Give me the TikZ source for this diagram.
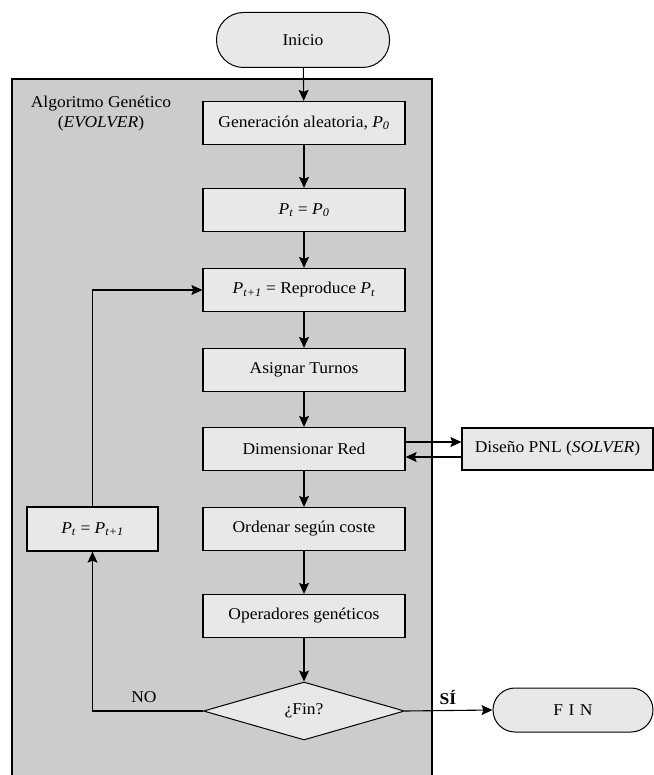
\documentclass[tikz,border=0pt]{standalone}
\usepackage{fontspec}
\setmainfont[FakeStretch=1.06]{Liberation Serif}
\usetikzlibrary{arrows.meta,shapes.geometric}
\definecolor{boxgray}{HTML}{E8E8E8}
\definecolor{panelgray}{HTML}{CCCCCC}
\tikzset{
  box/.style={draw=black, line width=1.3pt, fill=boxgray, minimum width=202pt, minimum height=43pt, inner sep=2pt},
  term/.style={draw=black, line width=1pt, fill=boxgray, minimum width=173pt, minimum height=55pt, rounded corners=27pt},
  arr/.style={line width=1.1pt, -{Stealth[length=11pt,width=10pt,inset=2pt]}}
}
\newcommand{\Pv}[1]{\textit{P}\textsubscript{\textit{#1}}}
\begin{document}
\begin{tikzpicture}[x=1pt,y=-1pt, every node/.style={font=\fontsize{16.5}{20}\selectfont}]
\useasboundingbox (0,0) rectangle (653,775);
\fill[white] (0,0) rectangle (653,775);
\draw[line width=1.3pt, fill=panelgray] (12,79) rectangle (432,780);
\node[align=center] (title) at (101,114) {Algoritmo Genético\\(\textit{EVOLVER})};
\node[term] (ini) at (303,40) {Inicio};
\node[box] (gen) at (304,123) {Generación aleatoria, \Pv{0}};
\node[box] (p0) at (304,210) {\Pv{t} = \Pv{0}};
\node[box] (rep) at (304,290) {\Pv{t+1} = Reproduce \Pv{t}};
\node[box] (asig) at (304,370) {Asignar Turnos};
\node[box] (dim) at (304,449) {Dimensionar Red};
\node[box, minimum width=191pt, minimum height=42pt] (pnl) at (557.5,449) {Diseño PNL (\textit{SOLVER})};
\node[box] (ord) at (304,529) {Ordenar según coste};
\node[box] (op) at (304,616) {Operadores genéticos};
\node[draw=black, line width=1pt, fill=boxgray, diamond, minimum width=201pt, minimum height=58pt, inner sep=0pt] (fin) at (304,711) {¿Fin?};
\node[term, minimum width=160pt, minimum height=44pt, rounded corners=22pt] (end) at (573,710) {F\,\,I\,\,N};
\node[box, minimum width=131pt, minimum height=44pt] (upd) at (92.5,529) {\Pv{t} = \Pv{t+1}};
\coordinate (c1) at (92.5,711);
\coordinate (c2) at (92.5,290);
\draw[arr] (ini) -- (gen);
\draw[arr] (gen) -- (p0);
\draw[arr] (p0) -- (rep);
\draw[arr] (rep) -- (asig);
\draw[arr] (asig) -- (dim);
\draw[arr] (dim) -- (ord);
\draw[arr] (ord) -- (op);
\draw[arr] (op) -- (fin);
\draw[arr] (dim.east |- 0,442) -- (pnl.west |- 0,442);
\draw[arr] (pnl.west |- 0,457) -- (dim.east |- 0,457);
\draw[arr] (fin.west) -- (c1) -- (upd.south);
\draw[arr] (upd.north) -- (c2) -- (rep.west);
\draw[arr] (fin.east) -- (end.west);
\node (no) at (144,697) {NO};
\node (si) at (448,697) {\textbf{SÍ}};
\end{tikzpicture}
\end{document}
